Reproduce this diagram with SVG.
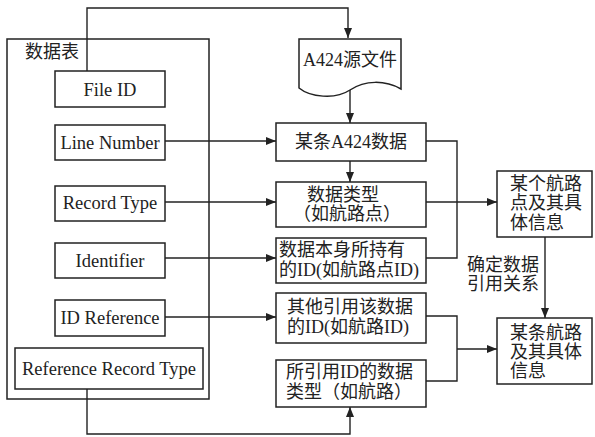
<svg xmlns="http://www.w3.org/2000/svg" width="595" height="437" viewBox="0 0 595 437">
<style>
.b{fill:#fff;stroke:#222;stroke-width:1.5}
.c{fill:none;stroke:#222;stroke-width:1.4}
.e{font-family:"Liberation Serif","Noto Sans CJK SC",serif;font-size:18.5px;fill:#222}
.z{font-family:"Liberation Serif","Noto Sans CJK SC",serif;font-size:18px;fill:#222}
.m{text-anchor:middle}
</style>
<defs>
<marker id="a" markerWidth="10" markerHeight="8" refX="10" refY="4" orient="auto" markerUnits="userSpaceOnUse">
<path d="M0,0 L10,4 L0,8 Z" fill="#222"/>
</marker>
</defs>
<rect width="595" height="437" fill="#fff"/>
<g id="table">
<rect class="b" x="7" y="39" width="202" height="360"/>
<text class="z" x="25" y="58">数据表</text>
</g>
<g id="fileid"><rect class="b" x="55" y="71" width="110" height="36"/><text class="e m" x="110" y="96">File ID</text></g>
<g id="linenumber"><rect class="b" x="55" y="125" width="110" height="35"/><text class="e m" x="110" y="149">Line Number</text></g>
<g id="recordtype"><rect class="b" x="55" y="186" width="110" height="35"/><text class="e m" x="110" y="209">Record Type</text></g>
<g id="identifier"><rect class="b" x="55" y="243" width="110" height="35"/><text class="e m" x="110" y="267">Identifier</text></g>
<g id="idreference"><rect class="b" x="55" y="300" width="110" height="36"/><text class="e m" x="110" y="324">ID Reference</text></g>
<g id="refrecordtype"><rect class="b" x="15" y="348" width="188" height="41"/><text class="e m" x="109" y="375">Reference Record Type</text></g>
<g id="srcfile"><path class="b" d="M299,39 H401 V89 C385,80 365,80 350,90 C335,100 310,97 299,88 Z"/><text class="z m" x="350" y="66">A424源文件</text></g>
<g id="record"><rect class="b" x="276" y="123" width="150" height="38"/><text class="z m" x="351" y="148">某条A424数据</text></g>
<g id="datatype"><rect class="b" x="276" y="182" width="150" height="45"/><text class="z" x="307" y="201">数据类型</text><text class="z" x="293" y="220">（如航路点）</text></g>
<g id="ownid"><rect class="b" x="276" y="238" width="150" height="45"/><text class="z" x="279" y="256">数据本身所持有</text><text class="z" x="279" y="276">的ID(如航路点ID)</text></g>
<g id="otherid"><rect class="b" x="276" y="293" width="150" height="50"/><text class="z" x="287" y="313">其他引用该数据</text><text class="z" x="287" y="333">的ID(如航路ID)</text></g>
<g id="reftype"><rect class="b" x="276" y="360" width="150" height="47"/><text class="z" x="286" y="378">所引用ID的数据</text><text class="z" x="286" y="398">类型（如航路）</text></g>
<g id="waypoint"><rect class="b" x="497" y="171" width="95" height="66"/><text class="z" x="510" y="190">某个航路</text><text class="z" x="510" y="209">点及其具</text><text class="z" x="510" y="229">体信息</text></g>
<g id="route"><rect class="b" x="497" y="318" width="95" height="66"/><text class="z" x="510" y="339">某条航路</text><text class="z" x="510" y="358">及其具体</text><text class="z" x="510" y="377">信息</text></g>
<g id="connectors">
<path class="c" d="M87,71 V8 H348 V38" marker-end="url(#a)"/>
<path class="c" d="M350,90 V123" marker-end="url(#a)"/>
<path class="c" d="M165,141 H276" marker-end="url(#a)"/>
<path class="c" d="M350,161 V182" marker-end="url(#a)"/>
<path class="c" d="M165,202 H276" marker-end="url(#a)"/>
<path class="c" d="M165,258 H276" marker-end="url(#a)"/>
<path class="c" d="M165,317 H276" marker-end="url(#a)"/>
<path class="c" d="M87,389 V434 H350 V407" marker-end="url(#a)"/>
<path class="c" d="M426,141 H457 V258 H426"/>
<path class="c" d="M426,202 H497" marker-end="url(#a)"/>
<path class="c" d="M426,316 H457 V381 H426"/>
<path class="c" d="M457,349 H497" marker-end="url(#a)"/>
<path class="c" d="M545,237 V318" marker-end="url(#a)"/>
<text class="z" x="467" y="271">确定数据</text>
<text class="z" x="467" y="290">引用关系</text>
</g>
</svg>
